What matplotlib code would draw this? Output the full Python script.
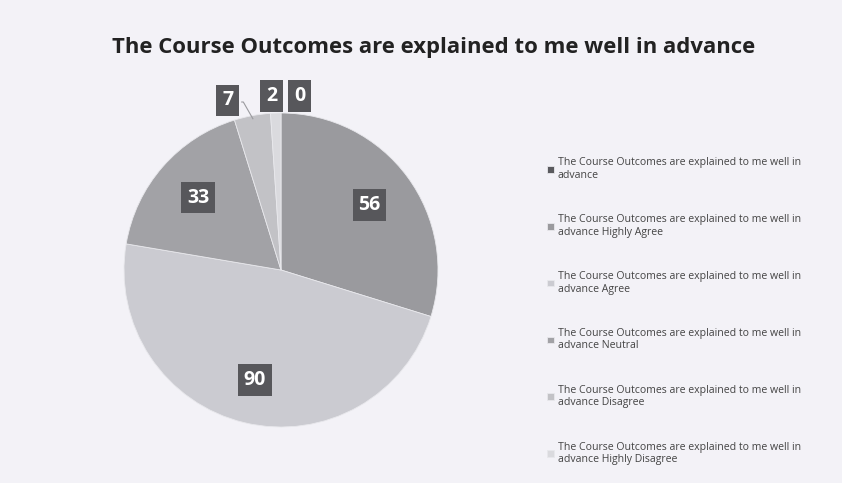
import matplotlib
matplotlib.use("Agg")
import matplotlib.pyplot as plt
import numpy as np

plt.rcParams['font.family'] = ['Open Sans', 'DejaVu Sans']

title = "The Course Outcomes are explained to me well in advance"
categories = [
    "The Course Outcomes are explained to me well in advance",
    "The Course Outcomes are explained to me well in advance Highly Agree",
    "The Course Outcomes are explained to me well in advance Agree",
    "The Course Outcomes are explained to me well in advance Neutral",
    "The Course Outcomes are explained to me well in advance Disagree",
    "The Course Outcomes are explained to me well in advance Highly Disagree",
]
values = [0, 56, 90, 33, 7, 2]
colors = ["#5a5a5e", "#9a9a9e", "#cbcbd1", "#a2a2a6", "#c2c2c6", "#dadade"]

W, H = 842, 483
fig = plt.figure(figsize=(W / 100, H / 100), dpi=100)
fig.patch.set_facecolor("#f3f2f7")

cx, cy, r = 281, 270, 157
ax = fig.add_axes([(cx - r) / W, (H - cy - r) / H, 2 * r / W, 2 * r / H])
ax.set_facecolor("none")
wedges, _ = ax.pie(values, colors=colors, startangle=90, counterclock=False,
                   radius=1.0, wedgeprops=dict(linewidth=0.6, edgecolor="#e8e8ec"))
ax.set_xlim(-1, 1)
ax.set_ylim(-1, 1)
ax.axis("off")

box = dict(boxstyle="square,pad=0.3", facecolor="#57575b", edgecolor="none")
# big slices: labels inside
for w, v in zip(wedges, values):
    if v < 20:
        continue
    ang = np.deg2rad((w.theta1 + w.theta2) / 2)
    d = 0.7 if v != 90 else 0.72
    ax.text(d * np.cos(ang), d * np.sin(ang), str(v), ha="center", va="center",
            color="white", fontsize=14, fontweight="bold", bbox=box)

# small slices: labels outside above pie
small_pos = {0: (0.12, 1.11), 4: (-0.34, 1.08), 5: (-0.06, 1.11)}
for i, (tx, ty) in small_pos.items():
    w = wedges[i]
    ax.text(tx, ty, str(values[i]), ha="center", va="center", color="white",
            fontsize=14, fontweight="bold", bbox=box, clip_on=False)
    if i == 4:
        ang = np.deg2rad((w.theta1 + w.theta2) / 2)
        ax.plot([tx + 0.09, -0.24, 0.98 * np.cos(ang)], [ty - 0.01, ty - 0.01, 0.98 * np.sin(ang)],
                color="#9a9a9e", lw=0.8, clip_on=False)

fig.text(434 / W, 1 - 47 / H, title, ha="center", va="center", fontsize=15.9,
         fontweight="bold", color="#222222")

leg = fig.legend(wedges, [c.replace("well in advance", "well in\nadvance") for c in categories],
                 loc="upper left", bbox_to_anchor=(542 / W, 1 - 152 / H), frameon=False,
                 fontsize=7.6, labelspacing=3.15, handlelength=0.6, handleheight=0.6,
                 handletextpad=0.4, borderpad=0)
for t in leg.get_texts():
    t.set_color("#444444")

fig.savefig("out.png", dpi=100, facecolor=fig.get_facecolor())
